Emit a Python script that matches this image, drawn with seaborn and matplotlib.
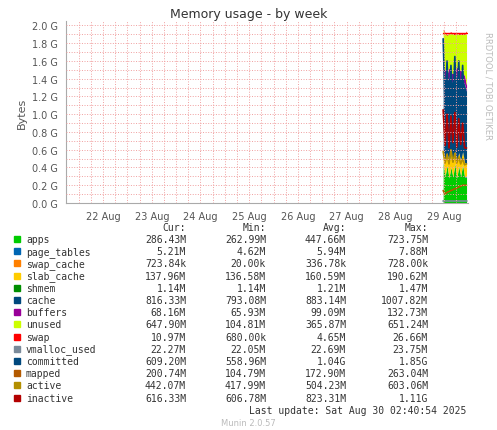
import numpy as np
import matplotlib.pyplot as plt
import seaborn as sns

sns.set_style("white")
plt.rcParams['font.family'] = ['DejaVu Sans']

# time axis in days of August
t = [28.98, 29.02, 29.06, 29.10, 29.14, 29.18, 29.22, 29.26, 29.30, 29.34, 29.38, 29.42, 29.46]
G = 1e9
# stacked areas (bytes)
apps = [0.45, 0.30, 0.42, 0.28, 0.40, 0.29, 0.44, 0.28, 0.41, 0.30, 0.43, 0.29, 0.29]
page_tables = [0.006] * 13
swap_cache = [0.001] * 13
slab_cache = [0.15, 0.17, 0.14, 0.18, 0.15, 0.16, 0.14, 0.18, 0.15, 0.17, 0.14, 0.16, 0.14]
shmem = [0.001] * 13
cache = [0.85, 0.92, 0.80, 0.95, 0.82, 0.90, 0.81, 0.96, 0.83, 0.92, 0.80, 0.88, 0.82]
buffers = [0.09, 0.10, 0.08, 0.11, 0.09, 0.10, 0.08, 0.11, 0.09, 0.10, 0.08, 0.10, 0.07]
unused = [0.40, 0.41, 0.44, 0.38, 0.45, 0.44, 0.42, 0.37, 0.41, 0.40, 0.44, 0.46, 0.60]
swap = [0.01, 0.01, 0.01, 0.01, 0.01, 0.01, 0.01, 0.01, 0.01, 0.01, 0.01, 0.01, 0.01]
# lines
vmalloc_used = [0.022] * 13
committed = [1.85, 1.10, 1.60, 1.05, 1.55, 1.10, 1.65, 1.05, 1.60, 1.10, 1.55, 1.05, 1.00]
mapped = [0.14, 0.10, 0.12, 0.13, 0.14, 0.15, 0.16, 0.17, 0.18, 0.19, 0.20, 0.20, 0.20]
active = [0.58, 0.45, 0.55, 0.44, 0.60, 0.46, 0.56, 0.45, 0.52, 0.44, 0.50, 0.43, 0.44]
inactive = [1.05, 0.65, 1.00, 0.62, 0.98, 0.68, 1.02, 0.63, 0.95, 0.66, 0.90, 0.62, 0.62]

area_names = ['apps', 'page_tables', 'swap_cache', 'slab_cache', 'shmem', 'cache', 'buffers', 'unused', 'swap']
area_vals = [apps, page_tables, swap_cache, slab_cache, shmem, cache, buffers, unused, swap]
area_cols = ['#00CC00', '#0066B3', '#FF8000', '#FFCC00', '#008F00', '#00487D', '#990099', '#CCFF00', '#FF0000']
line_names = ['vmalloc_used', 'committed', 'mapped', 'active', 'inactive']
line_vals = [vmalloc_used, committed, mapped, active, inactive]
line_cols = ['#7A8A9A', '#00487D', '#B35A00', '#B38F00', '#B30000']

cur = ['286.43M', '5.21M', '723.84k', '137.96M', '1.14M', '816.33M', '68.16M', '647.90M', '10.97M',
       '22.27M', '609.20M', '200.74M', '442.07M', '616.33M']
mins = ['262.99M', '4.62M', '20.00k', '136.58M', '1.14M', '793.08M', '65.93M', '104.81M', '680.00k',
        '22.05M', '558.96M', '104.79M', '417.99M', '606.78M']
avgs = ['447.66M', '5.94M', '336.78k', '160.59M', '1.21M', '883.14M', '99.09M', '365.87M', '4.65M',
        '22.69M', '1.04G', '172.90M', '504.23M', '823.31M']
maxs = ['723.75M', '7.88M', '728.00k', '190.62M', '1.47M', '1007.82M', '132.73M', '651.24M', '26.66M',
        '23.75M', '1.85G', '263.04M', '603.06M', '1.11G']

fig = plt.figure(figsize=(4.97, 4.31), dpi=100, facecolor='white')
ax = fig.add_axes([66 / 497, 1 - 204 / 431, 402 / 497, 182 / 431])
ax.stackplot(t, *[np.array(v) * G for v in area_vals], colors=area_cols, linewidth=0)
for v, c in zip(line_vals, line_cols):
    sns.lineplot(x=t, y=np.array(v) * G, color=c, linewidth=1.2, ax=ax, legend=False)
ax.plot([t[0], t[-1]], [1.92 * G, 1.92 * G], color='#FF0000', lw=1)

ax.set_xlim(21.24, 29.49)
ax.set_ylim(0, 2.05 * G)
days = [22, 23, 24, 25, 26, 27, 28, 29]
ax.set_xticks(days)
ax.set_xticklabels([f'{d} Aug' for d in days])
ax.set_xticks(np.arange(21.5, 29.5, 0.25), minor=True)
yt = np.arange(0, 2.01, 0.2)
ax.set_yticks(yt * G)
ax.set_yticklabels([f'{v:.1f} G' for v in yt])
ax.set_yticks(np.arange(0.1, 2.05, 0.2) * G, minor=True)
ax.grid(True, which='both', color='#F0A0A0', linestyle=':', linewidth=0.7)
ax.tick_params(labelsize=7, colors='#555555', length=2, which='both')
for s in ['top', 'right']:
    ax.spines[s].set_visible(False)
for s in ['left', 'bottom']:
    ax.spines[s].set_color('#AAAAAA')
ax.set_ylabel('Bytes', fontsize=8, color='#555555')
ax.set_axisbelow(False)

fig.text(0.5, 1 - 18 / 431, 'Memory usage - by week', ha='center', fontsize=9, color='#333333')
fig.text(488 / 497, 0.80, 'RRDTOOL / TOBI OETIKER', rotation=270, ha='center', va='center',
         fontsize=6, color='#BBBBBB')

mono = dict(family='DejaVu Sans Mono', fontsize=7, color='#333333', va='center')
names = area_names + line_names
cols = area_cols + line_cols
hy = 228
for x, h in [(186, 'Cur:'), (266, 'Min:'), (346, 'Avg:'), (428, 'Max:')]:
    fig.text(x / 497, 1 - hy / 431, h, ha='right', **mono)
for i, n in enumerate(names):
    y = 1 - (240 + i * 12.2) / 431
    fig.patches.append(plt.Rectangle((14 / 497, y - 3 / 431), 6 / 497, 6 / 431,
                                     transform=fig.transFigure, color=cols[i]))
    fig.text(26 / 497, y, n, **mono)
    for x, arr in [(186, cur), (266, mins), (346, avgs), (428, maxs)]:
        fig.text(x / 497, y, arr[i], ha='right', **mono)
fig.text(466 / 497, 1 - 411 / 431, 'Last update: Sat Aug 30 02:40:54 2025', ha='right', **mono)
fig.text(0.5, 1 - 424 / 431, 'Munin 2.0.57', ha='center', va='center', fontsize=6, color='#BBBBBB')

fig.savefig('out.png', dpi=100, facecolor='white')
